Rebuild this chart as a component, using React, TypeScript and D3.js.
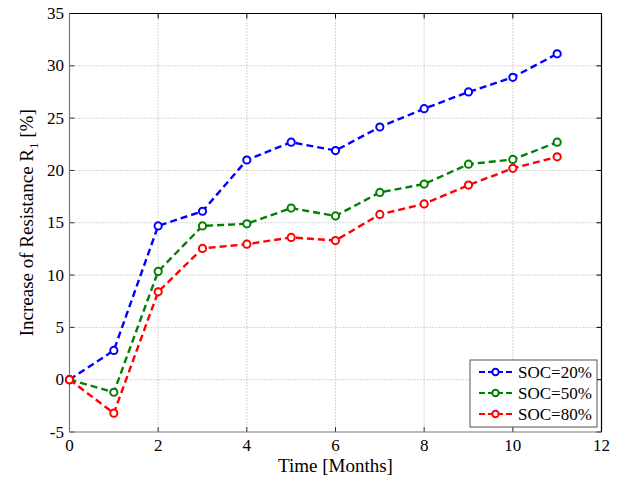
import React from "react";
import * as d3 from "d3";

const months = [0, 1, 2, 3, 4, 5, 6, 7, 8, 9, 10, 11];
const soc20 = [0, 2.8, 14.7, 16.1, 21.0, 22.7, 21.9, 24.15, 25.9, 27.5, 28.9, 31.15];
const soc50 = [0, -1.2, 10.35, 14.7, 14.9, 16.4, 15.65, 17.9, 18.7, 20.6, 21.05, 22.7];
const soc80 = [0, -3.2, 8.4, 12.55, 12.95, 13.6, 13.3, 15.8, 16.8, 18.6, 20.2, 21.3];
const seriesNames = ["SOC=20%", "SOC=50%", "SOC=80%"];
const seriesColors = ["#0000ff", "#008000", "#ff0000"];
const xTicks = [0, 2, 4, 6, 8, 10, 12];
const yTicks = [-5, 0, 5, 10, 15, 20, 25, 30, 35];

const W = 625;
const H = 480;
const L = 69.5, R = 601.5, T = 13.5, B = 432;
const FONT = '"Liberation Serif", "Times New Roman", Times, "DejaVu Serif", serif';

export default function App() {
  const x = d3.scaleLinear().domain([0, 12]).range([L, R]);
  const y = d3.scaleLinear().domain([-5, 35]).range([B, T]);
  const all = [soc20, soc50, soc80];
  const line = d3
    .line<number>()
    .x((_, i) => x(months[i]))
    .y((d) => y(d));
  const tick = 5;
  const legX = 470, legY = 360, legW = 127, legH = 67;
  return (
    <svg
      width={W}
      height={H}
      style={{ position: "absolute", left: 0, top: 0, background: "#fff", fontFamily: FONT }}
    >
      <rect x={0} y={0} width={W} height={H} fill="#fff" />
      {xTicks.slice(1, -1).map((t) => (
        <line key={"gx" + t} x1={x(t)} x2={x(t)} y1={T} y2={B} stroke="#999" strokeWidth={0.8} strokeDasharray="1,2" />
      ))}
      {yTicks.slice(1, -1).map((t) => (
        <line key={"gy" + t} x1={L} x2={R} y1={y(t)} y2={y(t)} stroke="#999" strokeWidth={0.8} strokeDasharray="1,2" />
      ))}
      {xTicks.map((t) => (
        <g key={"tx" + t}>
          <line x1={x(t)} x2={x(t)} y1={B} y2={B - tick} stroke="#333" />
          <line x1={x(t)} x2={x(t)} y1={T} y2={T + tick} stroke="#000" />
          <text x={x(t)} y={451} textAnchor="middle" fontSize={17} fill="#000" style={{ fontFamily: FONT }}>{t}</text>
        </g>
      ))}
      {yTicks.map((t) => (
        <g key={"ty" + t}>
          <line x1={L} x2={L + tick} y1={y(t)} y2={y(t)} stroke="#333" />
          <line x1={R} x2={R - tick} y1={y(t)} y2={y(t)} stroke="#000" />
          <text x={64} y={y(t) + 5.5} textAnchor="end" fontSize={17} fill="#000" style={{ fontFamily: FONT }}>{t}</text>
        </g>
      ))}
      <line x1={L} x2={R} y1={T} y2={T} stroke="#000" strokeWidth={1.2} />
      <line x1={R} x2={R} y1={T} y2={B} stroke="#000" strokeWidth={1.2} />
      <line x1={L} x2={L} y1={T} y2={B} stroke="#777" strokeWidth={1.2} />
      <line x1={L} x2={R} y1={B} y2={B} stroke="#777" strokeWidth={1.2} />
      {all.map((s, k) => (
        <g key={"s" + k}>
          <path d={line(s) || ""} fill="none" stroke={seriesColors[k]} strokeWidth={2.4} strokeDasharray="7,4" />
          {s.map((v, i) => (
            <circle key={i} cx={x(months[i])} cy={y(v)} r={3.6} fill="#fff" stroke={seriesColors[k]} strokeWidth={2} />
          ))}
        </g>
      ))}
      <rect x={legX} y={legY} width={legW} height={legH} fill="#fff" stroke="#555" strokeWidth={1} />
      {seriesNames.map((n, k) => {
        const ry = legY + 12 + k * 21;
        return (
          <g key={"l" + k}>
            <line x1={legX + 9} x2={legX + 42} y1={ry} y2={ry} stroke={seriesColors[k]} strokeWidth={2.2} strokeDasharray="6,3" />
            <circle cx={legX + 25.5} cy={ry} r={3.2} fill="#fff" stroke={seriesColors[k]} strokeWidth={2} />
            <text x={legX + 48} y={ry + 5.5} fontSize={17} fill="#000" style={{ fontFamily: FONT }}>{n}</text>
          </g>
        );
      })}
      <text x={(L + R) / 2} y={472} textAnchor="middle" fontSize={19} fill="#000" style={{ fontFamily: FONT }}>Time [Months]</text>
      <text transform={`translate(33, ${(T + B) / 2}) rotate(-90)`} textAnchor="middle" fontSize={19} fill="#000" style={{ fontFamily: FONT }}>
        Increase of Resistance R<tspan fontSize={13} dy={5}>1</tspan><tspan dy={-5}> [%]</tspan>
      </text>
    </svg>
  );
}
